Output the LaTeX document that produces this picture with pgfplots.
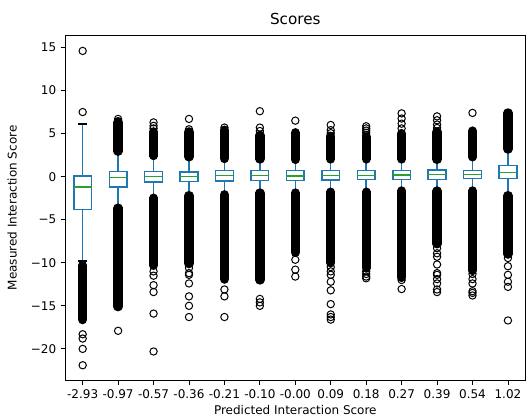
\documentclass[border=0pt]{standalone}
\usepackage{fontspec}
\setmainfont{DejaVu Sans}
\usepackage{pgfplots}
\pgfplotsset{compat=1.18}
\usepgfplotslibrary{statistics}

\definecolor{mplblue}{HTML}{1F77B4}
\definecolor{mplgreen}{HTML}{2CA02C}

\pgfplotsset{
  bx/.style={boxplot prepared={box extend=0.5, whisker extend=0, draw direction=y, #1},
    draw=mplblue, line width=1.1pt, solid},
  cap/.style={black, line width=1.1pt, unbounded coords=jump},
  mass/.style={black, line width=7pt, line cap=round},
  fl/.style={only marks, mark=o, mark size=2.75pt,
    mark options={black, line width=0.75pt}},
}

\begin{document}
\begin{tikzpicture}
\path[use as bounding box] (-48.75pt,-28.5pt) rectangle (346pt,285.75pt);
\begin{axis}[
    at={(0,0)}, anchor=south west,
    scale only axis,
    width=345.75pt, height=259.5pt,
    xmin=0.5, xmax=13.5,
    ymin=-23.7, ymax=16.45,
    axis line style={line width=0.65pt},
    tick align=outside, tick pos=left,
    major tick length=3pt,
    tick style={black, line width=0.65pt},
    xtick={1,...,13},
    xticklabels={-2.93,-0.97,-0.57,-0.36,-0.21,-0.10,-0.00,0.09,0.18,0.27,0.39,0.54,1.02},
    ytick={-20,-15,-10,-5,0,5,10,15},
    yticklabels={−20,−15,−10,−5,0,5,10,15},
    ticklabel style={font=\fontsize{9}{10}\selectfont},
    /pgf/number format/assume math mode=true,
    title={Scores},
    title style={font=\fontsize{11.4}{13}\selectfont, at={(axis description cs:0.5,1)}, anchor=base, yshift=1.7pt},
    xlabel={Predicted Interaction Score},
    xlabel style={font=\fontsize{9}{10}\selectfont, at={(axis description cs:0.5,0)}, anchor=base, yshift=-25.5pt},
    ylabel={Measured Interaction Score},
    ylabel style={font=\fontsize{9}{10}\selectfont, at={(axis description cs:-0.105,0.5)}, anchor=base},
    boxplot/every box/.style={draw=mplblue, line width=1.1pt},
    boxplot/every whisker/.style={draw=mplblue, line width=1.1pt},
    boxplot/every median/.style={draw=mplgreen, line width=1.1pt},
    clip=false,
]
% boxes: lower whisker, q1, median, q3, upper whisker
\addplot[bx={draw position=1, lower whisker=-9.8, lower quartile=-3.84, median=-1.2, upper quartile=0.1, upper whisker=6.1}] coordinates {};
\addplot[bx={draw position=2, lower whisker=-3.6, lower quartile=-1.2, median=-0.08, upper quartile=0.62, upper whisker=2.9}] coordinates {};
\addplot[bx={draw position=3, lower whisker=-2.5, lower quartile=-0.62, median=0.0, upper quartile=0.58, upper whisker=2.4}] coordinates {};
\addplot[bx={draw position=4, lower whisker=-2.2, lower quartile=-0.55, median=0.03, upper quartile=0.54, upper whisker=2.3}] coordinates {};
\addplot[bx={draw position=5, lower whisker=-2.1, lower quartile=-0.5, median=0.12, upper quartile=0.7, upper whisker=2.1}] coordinates {};
\addplot[bx={draw position=6, lower whisker=-1.9, lower quartile=-0.43, median=0.12, upper quartile=0.7, upper whisker=2.05}] coordinates {};
\addplot[bx={draw position=7, lower whisker=-1.9, lower quartile=-0.47, median=0.08, upper quartile=0.73, upper whisker=2.0}] coordinates {};
\addplot[bx={draw position=8, lower whisker=-1.8, lower quartile=-0.38, median=0.12, upper quartile=0.7, upper whisker=2.05}] coordinates {};
\addplot[bx={draw position=9, lower whisker=-1.8, lower quartile=-0.35, median=0.12, upper quartile=0.7, upper whisker=2.05}] coordinates {};
\addplot[bx={draw position=10, lower whisker=-1.66, lower quartile=-0.31, median=0.2, upper quartile=0.73, upper whisker=2.05}] coordinates {};
\addplot[bx={draw position=11, lower whisker=-1.66, lower quartile=-0.31, median=0.23, upper quartile=0.78, upper whisker=2.0}] coordinates {};
\addplot[bx={draw position=12, lower whisker=-1.66, lower quartile=-0.23, median=0.23, upper quartile=0.73, upper whisker=2.3}] coordinates {};
\addplot[bx={draw position=13, lower whisker=-2.2, lower quartile=-0.2, median=0.5, upper quartile=1.28, upper whisker=3.2}] coordinates {};

% caps
\addplot[cap] coordinates {
(0.875,6.1) (1.125,6.1) (nan,nan) (0.875,-9.8) (1.125,-9.8) (nan,nan)
(1.875,2.9) (2.125,2.9) (nan,nan) (1.875,-3.6) (2.125,-3.6) (nan,nan)
(2.875,2.4) (3.125,2.4) (nan,nan) (2.875,-2.5) (3.125,-2.5) (nan,nan)
(3.875,2.3) (4.125,2.3) (nan,nan) (3.875,-2.2) (4.125,-2.2) (nan,nan)
(4.875,2.1) (5.125,2.1) (nan,nan) (4.875,-2.1) (5.125,-2.1) (nan,nan)
(5.875,2.05) (6.125,2.05) (nan,nan) (5.875,-1.9) (6.125,-1.9) (nan,nan)
(6.875,2.0) (7.125,2.0) (nan,nan) (6.875,-1.9) (7.125,-1.9) (nan,nan)
(7.875,2.05) (8.125,2.05) (nan,nan) (7.875,-1.8) (8.125,-1.8) (nan,nan)
(8.875,2.05) (9.125,2.05) (nan,nan) (8.875,-1.8) (9.125,-1.8) (nan,nan)
(9.875,2.05) (10.125,2.05) (nan,nan) (9.875,-1.66) (10.125,-1.66) (nan,nan)
(10.875,2.0) (11.125,2.0) (nan,nan) (10.875,-1.66) (11.125,-1.66) (nan,nan)
(11.875,2.3) (12.125,2.3) (nan,nan) (11.875,-1.66) (12.125,-1.66) (nan,nan)
(12.875,3.2) (13.125,3.2) (nan,nan) (12.875,-2.2) (13.125,-2.2)
};

% dense runs of outliers (from first to last circle centre)
\addplot[mass] coordinates {(1,-10.3) (1,-16.6)};
\addplot[mass] coordinates {(2,2.95) (2,6.3)};
\addplot[mass] coordinates {(2,-3.65) (2,-15.1)};
\addplot[mass] coordinates {(3,2.45) (3,5.2)};
\addplot[mass] coordinates {(3,-2.5) (3,-10.3)};
\addplot[mass] coordinates {(4,2.3) (4,5.2)};
\addplot[mass] coordinates {(4,-2.2) (4,-10.1)};
\addplot[mass] coordinates {(5,2.1) (5,5.4)};
\addplot[mass] coordinates {(5,-2.1) (5,-11.9)};
\addplot[mass] coordinates {(6,2.05) (6,4.8)};
\addplot[mass] coordinates {(6,-1.9) (6,-12.0)};
\addplot[mass] coordinates {(7,2.0) (7,5.1)};
\addplot[mass] coordinates {(7,-1.9) (7,-8.8)};
\addplot[mass] coordinates {(8,2.05) (8,4.7)};
\addplot[mass] coordinates {(8,-1.8) (8,-10.0)};
\addplot[mass] coordinates {(9,2.05) (9,4.6)};
\addplot[mass] coordinates {(9,-1.8) (9,-10.6)};
\addplot[mass] coordinates {(10,2.05) (10,5.0)};
\addplot[mass] coordinates {(10,-1.66) (10,-11.7)};
\addplot[mass] coordinates {(11,2.0) (11,5.2)};
\addplot[mass] coordinates {(11,-1.66) (11,-7.8)};
\addplot[mass] coordinates {(12,2.3) (12,5.3)};
\addplot[mass] coordinates {(12,-1.66) (12,-10.9)};
\addplot[mass] coordinates {(13,3.2) (13,7.4)};
\addplot[mass] coordinates {(13,-2.2) (13,-9.0)};

% single outliers
\addplot[fl] coordinates {
(1,7.5) (1,14.6) (1,-18.3) (1,-18.8) (1,-20.0) (1,-21.9)
(2,6.45) (2,6.7) (2,-17.9)
(3,5.6) (3,5.9) (3,6.3) (3,-11.0) (3,-11.5) (3,-12.6) (3,-13.4) (3,-15.9) (3,-20.3)
(4,5.5) (4,6.7) (4,-10.6) (4,-11.2) (4,-11.4) (4,-12.4) (4,-13.9) (4,-15.0) (4,-16.3)
(5,5.7) (5,-13.1) (5,-13.9) (5,-16.3)
(6,5.3) (6,5.7) (6,7.6) (6,-14.2) (6,-14.6) (6,-15.0)
(7,6.5) (7,-9.65) (7,-10.8) (7,-11.6)
(8,5.05) (8,5.4) (8,6.0) (8,-10.5) (8,-11.0) (8,-11.4) (8,-12.2) (8,-13.2) (8,-14.8) (8,-16.0) (8,-16.3) (8,-16.6)
(9,4.8) (9,5.1) (9,5.35) (9,5.6) (9,5.85) (9,-11.0) (9,-11.3) (9,-11.6) (9,-11.8)
(10,5.6) (10,6.15) (10,6.75) (10,7.35) (10,-12.0) (10,-13.05)
(11,5.65) (11,6.05) (11,6.55) (11,7.0) (11,-8.3) (11,-8.9) (11,-9.3) (11,-10.2) (11,-11.2) (11,-11.4) (11,-11.9) (11,-12.4) (11,-13.1) (11,-13.4)
(12,7.4) (12,-11.3) (12,-11.9) (12,-12.4) (12,-13.3) (12,-13.5) (12,-13.8)
(13,-9.45) (13,-10.4) (13,-11.4) (13,-12.2) (13,-12.8) (13,-16.7)
};
\end{axis}
\end{tikzpicture}
\end{document}
